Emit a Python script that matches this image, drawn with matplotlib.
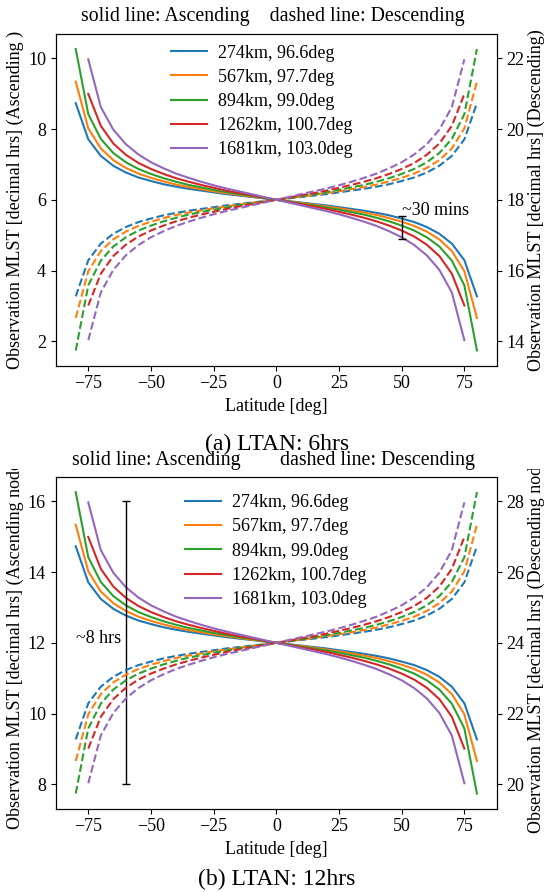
import matplotlib
matplotlib.use("Agg")
import matplotlib.pyplot as plt
from matplotlib.transforms import Bbox, TransformedBbox

plt.rcParams['font.family'] = ['Liberation Serif', 'DejaVu Serif']
plt.rcParams['font.size'] = 13

# latitude grid of the orbit samples [deg]
lat_80 = [-80, -75, -70, -65, -60, -55, -50, -45, -40, -35, -30, -25, -20, -15, -10, -5,
          0, 5, 10, 15, 20, 25, 30, 35, 40, 45, 50, 55, 60, 65, 70, 75, 80]
lat_75 = lat_80[1:-1]

orbit_names = ["274km, 96.6deg", "567km, 97.7deg", "894km, 99.0deg",
               "1262km, 100.7deg", "1681km, 103.0deg"]

# ascending-node local time minus LTAN [hrs]
shift_274 = [2.73, 1.71, 1.24, 0.96, 0.77, 0.63, 0.53, 0.44, 0.37, 0.31, 0.26, 0.21, 0.16, 0.12, 0.08, 0.04,
             0.00, -0.04, -0.08, -0.12, -0.16, -0.21, -0.26, -0.31, -0.37, -0.44, -0.53, -0.63, -0.77, -0.96,
             -1.24, -1.71, -2.73]
shift_567 = [3.34, 2.02, 1.45, 1.12, 0.90, 0.74, 0.62, 0.52, 0.43, 0.36, 0.30, 0.24, 0.19, 0.14, 0.09, 0.05,
             0.00, -0.05, -0.09, -0.14, -0.19, -0.24, -0.30, -0.36, -0.43, -0.52, -0.62, -0.74, -0.90, -1.12,
             -1.45, -2.02, -3.34]
shift_894 = [4.26, 2.42, 1.72, 1.32, 1.06, 0.87, 0.73, 0.61, 0.51, 0.42, 0.35, 0.28, 0.22, 0.16, 0.11, 0.05,
             0.00, -0.05, -0.11, -0.16, -0.22, -0.28, -0.35, -0.42, -0.51, -0.61, -0.73, -0.87, -1.06, -1.32,
             -1.72, -2.42, -4.26]
shift_1262 = [2.99, 2.09, 1.59, 1.27, 1.04, 0.87, 0.73, 0.61, 0.51, 0.42, 0.34, 0.26, 0.19, 0.13, 0.06,
              0.00, -0.06, -0.13, -0.19, -0.26, -0.34, -0.42, -0.51, -0.61, -0.73, -0.87, -1.04, -1.27,
              -1.59, -2.09, -2.99]
shift_1681 = [3.97, 2.62, 1.98, 1.57, 1.28, 1.06, 0.89, 0.74, 0.62, 0.51, 0.41, 0.32, 0.24, 0.16, 0.08,
              0.00, -0.08, -0.16, -0.24, -0.32, -0.41, -0.51, -0.62, -0.74, -0.89, -1.06, -1.28, -1.57,
              -1.98, -2.62, -3.97]

lats = [lat_80, lat_80, lat_80, lat_75, lat_75]
shifts = [shift_274, shift_567, shift_894, shift_1262, shift_1681]
colors = ['tab:blue', 'tab:orange', 'tab:green', 'tab:red', 'tab:purple']

fig = plt.figure(figsize=(5.48, 8.92), dpi=100)
ax_a = fig.add_axes([0.1016, 0.5902, 0.8053, 0.3717])
ax_b = fig.add_axes([0.1016, 0.0935, 0.8053, 0.3717])


def draw_panel(ax, ltan):
    ax2 = ax.twinx()
    for lat, sh, name, c in zip(lats, shifts, orbit_names, colors):
        asc = [ltan + s for s in sh]
        desc = [ltan + 12 - s for s in sh]
        ax.plot(lat, asc, color=c, label=name)
        ax2.plot(lat, desc, color=c, linestyle='--')
    ax.set_xlabel("Latitude [deg]")
    return ax2


leg_kw = dict(loc='upper left', borderaxespad=0, frameon=False,
              handletextpad=0.6, labelspacing=0.4)

# (a) LTAN 6 hrs
ax_a2 = draw_panel(ax_a, 6)
ax_a.set_ylabel("Observation MLST [decimal hrs] (Ascending )", labelpad=3)
ax_a2.set_ylabel("Observation MLST [decimal hrs] (Descending)", labelpad=2)
ax_a.set_yticks([2, 4, 6, 8, 10])
ax_a2.set_yticks([14, 16, 18, 20, 22])
ax_a.legend(bbox_to_anchor=(0.244, 0.99), **leg_kw)
ax_a.errorbar(50, 5.215, yerr=0.325, color='k', capsize=3, lw=1, capthick=1)
ax_a.text(50, 5.57, "~30 mins", ha='left', va='baseline')
fig.text(0.498, 1 - 16 / 892, "solid line: Ascending    dashed line: Descending",
         ha='center', va='center', fontsize=14.3)
fig.text(0.505, 1 - 444 / 892, "(a) LTAN: 6hrs", ha='center', va='center', fontsize=17)

# (b) LTAN 12 hrs
ax_b2 = draw_panel(ax_b, 12)
ax_b.set_ylabel("Observation MLST [decimal hrs] (Ascending node)", labelpad=3)
ax_b2.set_ylabel("Observation MLST [decimal hrs] (Descending node)", labelpad=2)
ax_b.set_yticks([8, 10, 12, 14, 16])
ax_b2.set_yticks([20, 22, 24, 26, 28])
ax_b.legend(bbox_to_anchor=(0.276, 0.97), **leg_kw)
ax_b.errorbar(-60, 12, yerr=4, color='k', capsize=3, lw=1, capthick=1)
ax_b.text(-62, 12.0, "~8 hrs", ha='right', va='baseline')
fig.text(0.285, 1 - 461 / 892, "solid line: Ascending", ha='center', va='center', fontsize=14.3)
fig.text(0.689, 1 - 461 / 892, "dashed line: Descending", ha='center', va='center', fontsize=14.3)
fig.text(0.505, 1 - 879 / 892, "(b) LTAN: 12hrs", ha='center', va='center', fontsize=17)

# lower panel's axis titles are cut at the panel boundary
clip = TransformedBbox(Bbox([[0, 0], [1, 1 - 469 / 892]]), fig.transFigure)
for lab in (ax_b.yaxis.label, ax_b2.yaxis.label):
    lab.set_clip_box(clip)
    lab.set_clip_on(True)

fig.savefig("out.png", dpi=100)
